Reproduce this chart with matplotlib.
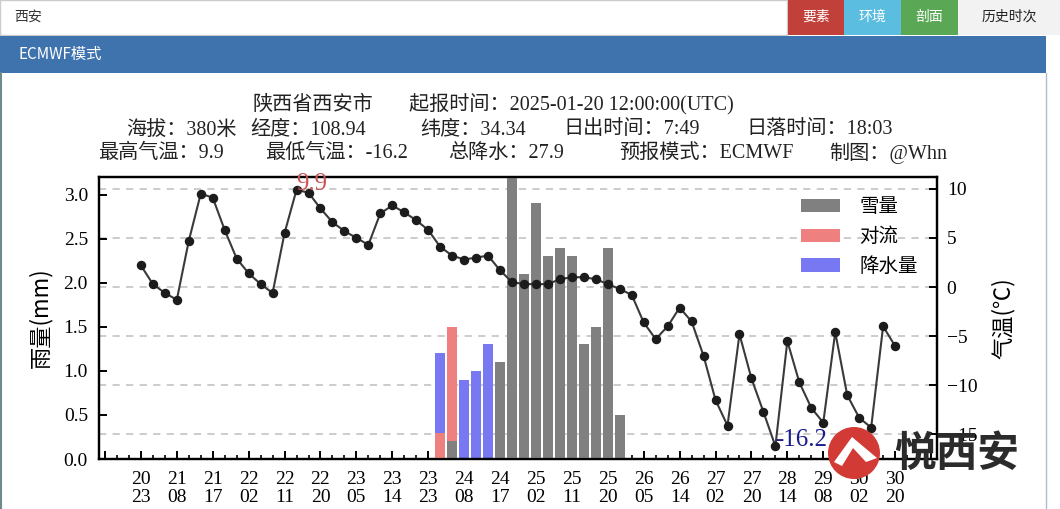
import numpy as np
import matplotlib
matplotlib.use('Agg')
import matplotlib.pyplot as plt
from matplotlib.patches import Rectangle, Circle, Polygon
from matplotlib.ticker import MultipleLocator, FuncFormatter
from matplotlib.transforms import blended_transform_factory

W, H = 1060, 509

# forecast steps (local day / hour), one label every 3 steps
time_labels = ['20\n23', '21\n08', '21\n17', '22\n02', '22\n11', '22\n20',
               '23\n05', '23\n14', '23\n23', '24\n08', '24\n17', '25\n02',
               '25\n11', '25\n20', '26\n05', '26\n14', '27\n02', '27\n20',
               '28\n14', '29\n08', '30\n02', '30\n20']

temps = [2.2, 0.3, -0.6, -1.3, 4.7, 9.5, 9.1, 5.8, 2.9, 1.4,
         0.3, -0.6, 5.5, 9.9, 9.6, 8.0, 6.6, 5.7, 5.0, 4.3,
         7.5, 8.3, 7.6, 6.8, 5.8, 4.1, 3.2, 2.8, 3.0, 3.2,
         1.7, 0.5, 0.3, 0.3, 0.3, 0.8, 1.0, 1.0, 0.8, 0.3,
         -0.2, -0.8, -3.6, -5.3, -4.0, -2.1, -3.5, -7.0, -11.5, -14.1,
         -4.8, -9.3, -12.7, -16.2, -5.5, -9.7, -12.3, -13.8, -4.6, -11.0,
         -13.3, -14.3, -4.0, -6.0]

precip = [0, 0, 0, 0, 0, 0, 0, 0, 0, 0, 0, 0, 0, 0, 0, 0,
          0, 0, 0, 0, 0, 0, 0, 0, 0, 1.2, 1.5, 0.9, 1.0, 1.3, 1.1, 3.2,
          2.1, 2.9, 2.3, 2.4, 2.3, 1.3, 1.5, 2.4, 0.5, 0, 0, 0, 0, 0, 0, 0,
          0, 0, 0, 0, 0, 0, 0, 0, 0, 0, 0, 0, 0, 0, 0, 0]

conv = [0, 0, 0, 0, 0, 0, 0, 0, 0, 0, 0, 0, 0, 0, 0, 0,
        0, 0, 0, 0, 0, 0, 0, 0, 0, 0.3, 1.5, 0, 0, 0, 0, 0,
        0, 0, 0, 0, 0, 0, 0, 0, 0, 0, 0, 0, 0, 0, 0, 0,
        0, 0, 0, 0, 0, 0, 0, 0, 0, 0, 0, 0, 0, 0, 0, 0]

snow = [0, 0, 0, 0, 0, 0, 0, 0, 0, 0, 0, 0, 0, 0, 0, 0,
        0, 0, 0, 0, 0, 0, 0, 0, 0, 0, 0.2, 0, 0, 0, 1.1, 3.2,
        2.1, 2.9, 2.3, 2.4, 2.3, 1.3, 1.5, 2.4, 0.5, 0, 0, 0, 0, 0, 0, 0,
        0, 0, 0, 0, 0, 0, 0, 0, 0, 0, 0, 0, 0, 0, 0, 0]

plt.rcParams['font.family'] = ['Liberation Serif', 'Noto Sans CJK SC']
plt.rcParams['axes.unicode_minus'] = True
CJK = ['Noto Sans CJK SC', 'DejaVu Sans']


def fig_box(fig, x0, y0, x1, y1, **kw):
    fig.add_artist(Rectangle((x0 / W, 1 - y1 / H), (x1 - x0) / W, (y1 - y0) / H,
                             transform=fig.transFigure, **kw))


def fig_label(fig, x, y, s, **kw):
    fig.text(x / W, 1 - y / H, s, **kw)


fig = plt.figure(figsize=(W / 100, H / 100), dpi=100)

# ---- page chrome ----
fig_box(fig, 0, 0, 787, 35, facecolor='white', edgecolor='#cccccc', lw=1)
fig_label(fig, 14, 17, '西安', family=CJK, fontsize=10, va='center', color='#333333')
buttons = [('要素', 788, 844, '#c2403a', 'white'),
           ('环境', 844, 901, '#5bbde0', 'white'),
           ('剖面', 901, 958, '#5aa855', 'white'),
           ('历史时次', 958, 1060, '#f2f2f2', '#222222')]
for txt, x0, x1, fc, tc in buttons:
    fig_box(fig, x0, 0, x1, 35, facecolor=fc, edgecolor='none')
    fig_label(fig, (x0 + x1) / 2, 17, txt, family=CJK, fontsize=10,
              ha='center', va='center', color=tc)
fig_box(fig, 0, 36, 1046, 73, facecolor='#3f73ae', edgecolor='none')
fig_label(fig, 18, 54, 'ECMWF模式', family=CJK, fontsize=11, va='center',
          color='white')
fig.add_artist(plt.Line2D([1045.5 / W, 1045.5 / W], [0, 1 - 73 / H],
                          transform=fig.transFigure, color='#a9bfd6', lw=1))
fig.add_artist(plt.Line2D([0.8 / W, 0.8 / W], [0, 1 - 73 / H],
                          transform=fig.transFigure, color='#6f8a8a', lw=1.5))

# ---- chart ----
ax = fig.add_axes([99 / W, 1 - 459 / H, (937 - 99) / W, (459 - 177) / H])
ax2 = ax.twinx()

x = np.arange(len(temps))
tmin, tmax = min(temps), max(temps)
ax2.set_ylim(tmin - 1.3, tmax + 1.3)
ax.set_ylim(0, 3.2)
ax.set_xlim(-3.5, 66.5)

# temperature grid drawn underneath the bars
grid_tf = blended_transform_factory(ax.transAxes, ax2.transData)
for t in range(-15, 11, 5):
    ax.plot([0, 1], [t, t], transform=grid_tf, color='#c8c8c8', lw=1.3,
            ls=(0, (4, 3.5)), zorder=0)

bw = 0.8
b_pre = ax.bar(x, precip, width=bw, color='#7878f2', zorder=2)
b_con = ax.bar(x, conv, width=bw, color='#ef8080', zorder=3)
b_snw = ax.bar(x, snow, width=bw, color='#808080', zorder=4)

ax2.plot(x, temps, color='#3a3a3a', lw=1.5, marker='o', ms=5.8,
         mfc='#1c1c1c', mec='#1c1c1c')
imax, imin = temps.index(tmax), temps.index(tmin)
ax2.text(imax, tmax, f'{tmax:.1f}', color='#cd5555', fontsize=18,
         ha='left', va='baseline')
ax2.text(imin, tmin, f'{tmin:.1f}', color='#1c1c8c', fontsize=18,
         ha='left', va='baseline')

ax.xaxis.set_major_locator(MultipleLocator(3))
ax.xaxis.set_minor_locator(MultipleLocator(1))
ax.xaxis.set_major_formatter(FuncFormatter(
    lambda v, p: time_labels[int(round(v / 3))]
    if 0 <= round(v / 3) < len(time_labels) else ''))
ax.set_yticks(np.arange(0, 3.01, 0.5))
ax.yaxis.set_major_formatter(FuncFormatter(lambda v, p: f'{v:.1f}'))
ax2.set_yticks(range(-15, 11, 5))

for a in (ax, ax2):
    for s in a.spines.values():
        s.set_linewidth(1.6)
ax.tick_params(axis='both', which='major', direction='in', length=6, width=1.4,
               labelsize=14, pad=8)
ax.tick_params(axis='x', which='minor', direction='in', length=3, width=1.2)
ax.tick_params(axis='x', which='major', pad=9)
ax2.tick_params(axis='y', direction='in', length=6, width=1.4, labelsize=14, pad=7)

ax.set_ylabel('雨量(mm)', fontsize=16, family=CJK, labelpad=8)
ax2.set_ylabel('气温(℃)', fontsize=16, family=CJK, labelpad=10)

ax2.legend([b_snw, b_con, b_pre], ['雪量', '对流', '降水量'], loc='upper right',
           frameon=False, prop={'family': CJK, 'size': 14}, handlelength=2.0,
           handleheight=0.7, labelspacing=0.45, handletextpad=1.0,
           borderaxespad=0.6)

# title block, one row of fields per line
tot = sum(precip)
title_rows = [
    (105, [(253, '陕西省西安市'),
           (409, '起报时间：2025-01-20 12:00:00(UTC)')]),
    (130, [(126, '海拔：380米'), (250, '经度：108.94'), (420, '纬度：34.34'),
           (563, '日出时间：7:49'), (746, '日落时间：18:03')]),
    (153, [(98, f'最高气温：{tmax:.1f}'), (265, f'最低气温：{tmin:.1f}'),
           (448, f'总降水：{tot:.1f}'), (619, '预报模式：ECMWF'),
           (829, '制图：@Whn')]),
]
for yy, fields in title_rows:
    for xx, s in fields:
        fig_label(fig, xx, yy, s, fontsize=14.5, ha='left', va='center',
                  color='#222222')

# logo
fig.add_artist(Circle((854 / 100, (H - 453) / 100), 0.26,
                      transform=fig.dpi_scale_trans, facecolor='#d23a35',
                      edgecolor='none', zorder=10))
pts = [(834, 462), (852, 437), (877, 458), (866, 462), (853, 448), (842, 466)]
fig.add_artist(Polygon([(px / W, 1 - py / H) for px, py in pts],
                       transform=fig.transFigure, facecolor='white',
                       edgecolor='none', zorder=11))
fig_label(fig, 957, 454, '悦西安', family=CJK, fontsize=30, fontweight='bold',
          ha='center', va='center', color='#2b2b2b', zorder=11)

for lab in ax.get_xticklabels():
    lab.set_linespacing(1.0)

fig.savefig('out.png', dpi=100)
